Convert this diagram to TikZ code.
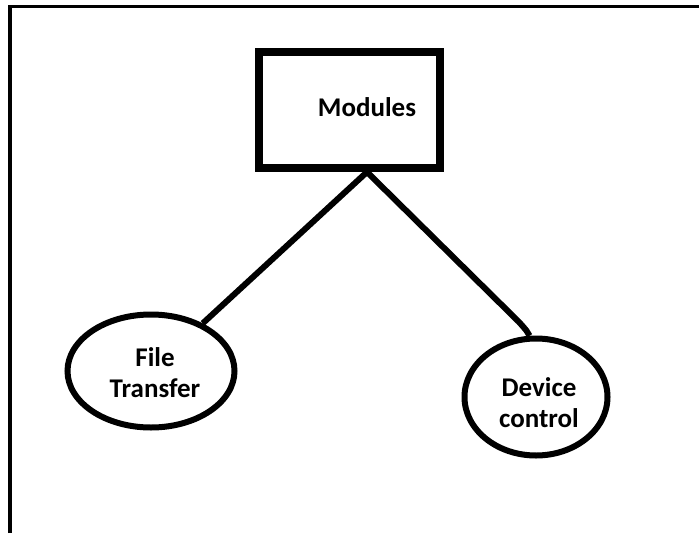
\documentclass[tikz,border=0pt]{standalone}
\usepackage{fontspec}
\setmainfont{Carlito}
\usetikzlibrary{shapes.geometric}
\begin{document}
\begin{tikzpicture}[x=1pt,y=-1pt,
  lbl/.style={font=\fontsize{27}{31}\selectfont\bfseries, align=center, text=black},
  boxnode/.style={draw, line width=8pt, minimum width=181pt, minimum height=116pt, inner sep=0pt, lbl},
  ovalnode/.style={draw, ellipse, line width=6pt, inner sep=0pt, lbl},
  link/.style={line width=6pt}]
\useasboundingbox (0,0) rectangle (699,533);
\fill[white] (0,0) rectangle (699,533);
\draw[line width=3.5pt] (10,533) -- (10,6.5) -- (699,6.5);
\node[boxnode] (mod) at (349.5,110) {};
\node[lbl] (modtxt) at (367,107) {Modules};
\node[ovalnode, minimum width=167pt, minimum height=113pt] (ft) at (151,371) {};
\node[lbl] (fttxt) at (155,373) {File\\Transfer};
\node[ovalnode, minimum width=143pt, minimum height=117pt] (dc) at (536,397) {};
\node[lbl] (dctxt) at (539,403) {Device\\control};
\coordinate (apex) at (367,172);
\coordinate (rb) at (519,322);
\draw[link] (apex) -- (ft);
\draw[link] (apex) -- (rb) .. controls (527,331) .. (dc.96);
\end{tikzpicture}
\end{document}
